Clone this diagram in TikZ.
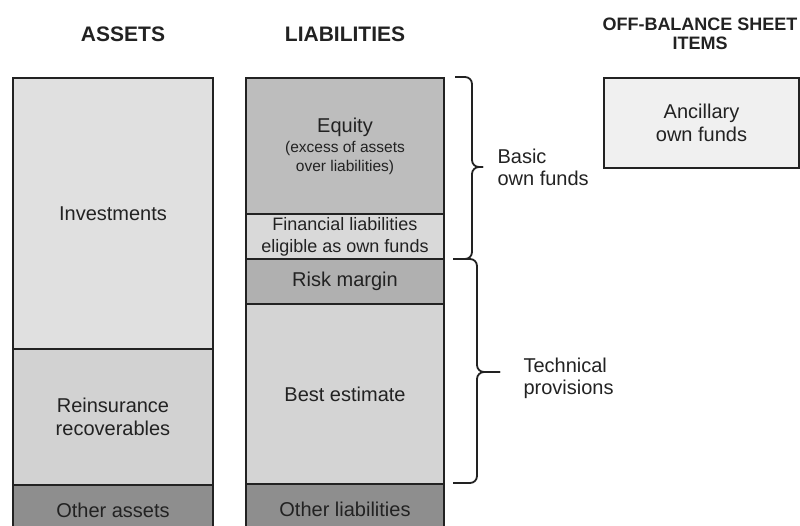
\documentclass[tikz,border=0pt]{standalone}
\usepackage{fontspec}
\setmainfont{Liberation Sans}
\definecolor{invest}{HTML}{E0E0E0}
\definecolor{reins}{HTML}{D2D2D2}
\definecolor{other}{HTML}{8E8E8E}
\definecolor{equity}{HTML}{BDBDBD}
\definecolor{finl}{HTML}{D9D9D9}
\definecolor{risk}{HTML}{B0B0B0}
\definecolor{best}{HTML}{D4D4D4}
\definecolor{ancil}{HTML}{F0F0F0}
\definecolor{ink}{HTML}{222222}
\begin{document}
\begin{tikzpicture}[x=1pt,y=-1pt,
  block/.style={draw=ink, line width=2pt, anchor=north west, inner sep=0pt,
    align=center, text=ink, font=\fontsize{20}{23}\selectfont},
  head/.style={text=ink, font=\bfseries\fontsize{21}{24}\selectfont},
  smallhead/.style={text=ink, align=center, font=\bfseries\fontsize{18}{19}\selectfont},
  brc/.style={line width=1.8pt, draw=ink, rounded corners=7pt},
  lbl/.style={anchor=west, align=left, text=ink, font=\fontsize{20}{22}\selectfont}]
\useasboundingbox (0,0) rectangle (800,525);
\clip (0,0) rectangle (800,525);

% column headings
\node[head] (hassets) at (123,34) {ASSETS};
\node[head] (hliab) at (345,34) {LIABILITIES};
\node[smallhead] (hoff) at (700,34) {OFF-BALANCE SHEET\\ITEMS};

% assets column
\node[block, fill=invest, minimum width=200pt, minimum height=271pt] (inv) at (12,77) {Investments};
\node[block, fill=reins, minimum width=200pt, minimum height=136pt] (rein) at (12,348) {Reinsurance\\recoverables};
\node[block, fill=other, minimum width=200pt, minimum height=50pt] (oass) at (12,484) {Other assets};

% liabilities column
\node[block, fill=equity, minimum width=198pt, minimum height=136pt] (eq) at (245,77)
  {Equity\\[-3pt]\fontsize{15.5}{18}\selectfont (excess of assets\\[-4pt]\fontsize{15.5}{18}\selectfont over liabilities)};
\node[block, fill=finl, minimum width=198pt, minimum height=45pt, font=\fontsize{18}{22}\selectfont] (fin) at (245,213)
  {Financial liabilities\\eligible as own funds};
\node[block, fill=risk, minimum width=198pt, minimum height=45pt] (rm) at (245,258) {Risk margin};
\node[block, fill=best, minimum width=198pt, minimum height=180pt] (be) at (245,303) {Best estimate};
\node[block, fill=other, minimum width=198pt, minimum height=50pt] (oliab) at (245,483) {Other liabilities};

% off-balance sheet item
\node[block, fill=ancil, minimum width=195pt, minimum height=90pt] (anc) at (603,77) {Ancillary\\own funds};

% braces grouping the liabilities: two halves meeting at the tip
\coordinate (b1t) at (455,77);
\coordinate (b1b) at (455,259);
\coordinate (b1m) at (472,167);
\coordinate (b1tip) at (483,167);
\draw[brc] (b1t) -| (b1m) -- (b1tip);
\draw[brc] (b1b) -| (b1m) -- (b1tip);

\coordinate (b2t) at (453,259);
\coordinate (b2b) at (453,483);
\coordinate (b2m) at (477,372);
\coordinate (b2tip) at (500,372);
\draw[brc] (b2t) -| (b2m) -- (b2tip);
\draw[brc] (b2b) -| (b2m) -- (b2tip);

\node[lbl] (basic) at (494,167) {Basic\\own funds};
\node[lbl] (tech) at (520,378) {Technical\\provisions};
\end{tikzpicture}
\end{document}
